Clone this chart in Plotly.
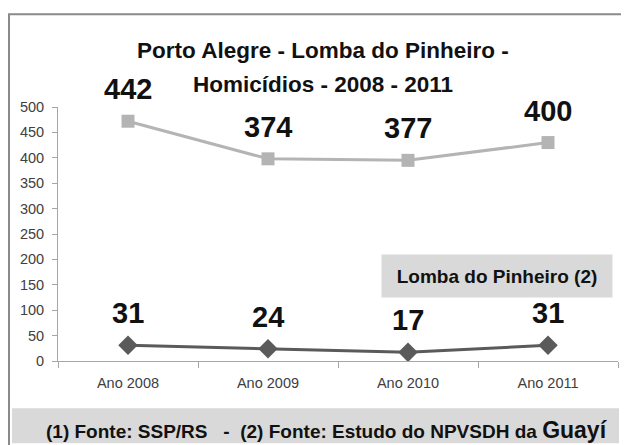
import plotly.graph_objects as go

categories = ["Ano 2008", "Ano 2009", "Ano 2010", "Ano 2011"]
# plotted positions
porto_values = [472, 398, 395, 430]
# printed labels on the chart
porto_labels = ["442", "374", "377", "400"]
lomba_values = [31, 24, 17, 31]
lomba_labels = ["31", "24", "17", "31"]

FONT = "Liberation Sans, Arial, sans-serif"

fig = go.Figure()
fig.add_trace(go.Scatter(
    x=categories, y=porto_values, mode="lines+markers",
    line=dict(color="#b4b4b4", width=3),
    marker=dict(symbol="square", size=13, color="#b4b4b4"),
    showlegend=False, hoverinfo="skip"))
fig.add_trace(go.Scatter(
    x=categories, y=lomba_values, mode="lines+markers",
    line=dict(color="#5a5a5a", width=3),
    marker=dict(symbol="diamond", size=15, color="#5a5a5a"),
    showlegend=False, hoverinfo="skip"))

annotations = []
for c, v, t in zip(categories, porto_values, porto_labels):
    annotations.append(dict(x=c, y=v, text=t, showarrow=False, yshift=32,
                            font=dict(family=FONT, size=29, color="#111111", weight="bold"),
                            xanchor="center", yanchor="middle"))
for c, v, t in zip(categories, lomba_values, lomba_labels):
    annotations.append(dict(x=c, y=v, text=t, showarrow=False, yshift=32,
                            font=dict(family=FONT, size=29, color="#111111", weight="bold"),
                            xanchor="center", yanchor="middle"))

# page coords (browser adds 8px body margin); plot area: x 58..618 px, y 106.7..360.7 px
def px(xp):
    return (xp - 58) / 560.0

def py(yp):
    return (360.7 - yp) / 254.0

annotations += [
    dict(xref="paper", yref="paper", x=px(323), y=py(50), text="Porto Alegre - Lomba do Pinheiro -",
         showarrow=False, xanchor="center", yanchor="middle",
         font=dict(family=FONT, size=22.5, color="#111111", weight="bold")),
    dict(xref="paper", yref="paper", x=px(323), y=py(84), text="Homicídios - 2008 - 2011",
         showarrow=False, xanchor="center", yanchor="middle",
         font=dict(family=FONT, size=22.5, color="#111111", weight="bold")),
    dict(xref="paper", yref="paper", x=px(497), y=py(276), text="Lomba do Pinheiro (2)",
         showarrow=False, xanchor="center", yanchor="middle", bgcolor="#d9d9d9",
         width=228, height=40, borderpad=1,
         font=dict(family=FONT, size=19, color="#111111", weight="bold")),
    dict(xref="paper", yref="paper", x=px(327), y=py(430),
         text="(1) Fonte: SSP/RS   -  (2) Fonte: Estudo do NPVSDH da <span style='font-size:23px'>Guayí</span>",
         showarrow=False, xanchor="center", yanchor="middle",
         font=dict(family=FONT, size=19, color="#111111", weight="bold")),
]

shapes = [
    dict(type="rect", xref="paper", yref="paper", x0=px(12), x1=px(619), y0=py(408), y1=py(443),
         fillcolor="#d9d9d9", line=dict(width=0), layer="below"),
    dict(type="rect", xref="paper", yref="paper", x0=px(9), x1=px(640), y0=py(14), y1=py(460),
         fillcolor="rgba(0,0,0,0)", line=dict(color="#8a8a8a", width=2)),
]

fig.update_layout(
    width=621, height=437,
    margin=dict(l=50, r=11, t=99, b=84),
    paper_bgcolor="white", plot_bgcolor="white",
    annotations=annotations, shapes=shapes,
    xaxis=dict(type="category", categoryorder="array", categoryarray=categories,
               range=[-0.5, len(categories) - 0.5],
               showline=True, linecolor="#a6a6a6", linewidth=1, showgrid=False,
               ticks="outside", tickson="boundaries", ticklen=6, tickcolor="#a6a6a6",
               ticklabelstandoff=9,
               tickfont=dict(family=FONT, size=14.5, color="#404040"), zeroline=False),
    yaxis=dict(range=[0, 500], dtick=50, showline=True, linecolor="#a6a6a6", linewidth=1,
               showgrid=False, zeroline=False, ticks="outside", ticklen=5, tickcolor="#a6a6a6",
               ticklabelstandoff=5,
               tickfont=dict(family=FONT, size=14.5, color="#404040")),
)

fig.write_html("out.html")
